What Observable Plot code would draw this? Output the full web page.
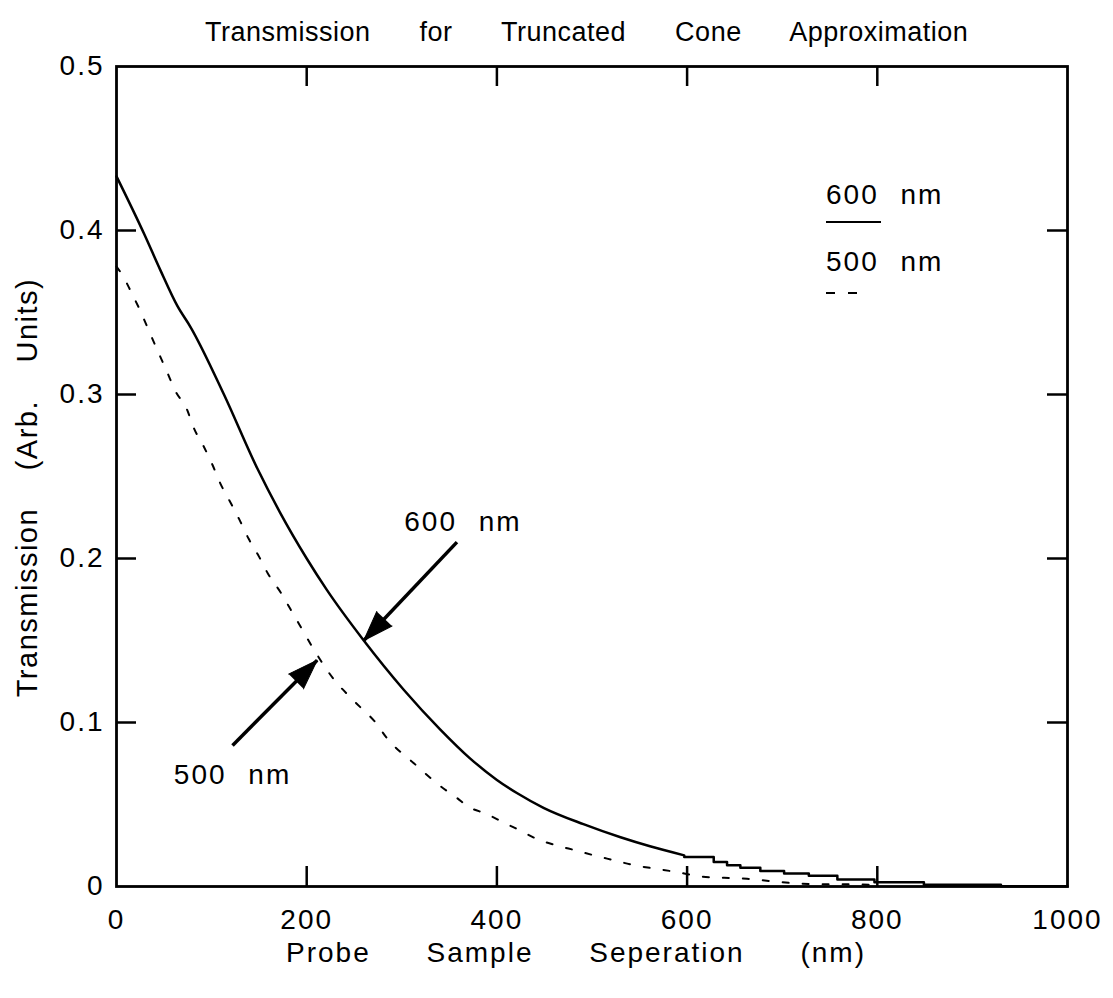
<!DOCTYPE html>
<html>
<head>
<meta charset="utf-8">
<script src="https://cdn.jsdelivr.net/npm/d3@7"></script>
<script src="https://cdn.jsdelivr.net/npm/@observablehq/plot@0.6"></script>
<style>
  html, body { margin: 0; padding: 0; background: #fff; }
  #wrap { position: relative; width: 1113px; height: 998px; font-family: "Liberation Sans", Arial, sans-serif; color: #000; }
  #title { position: absolute; z-index: 2; top: 17px; left: 205px; white-space: nowrap; font-size: 27px; line-height: 30px; letter-spacing: 0.5px; word-spacing: 41px; }
  #chart { position: absolute; z-index: 1; top: 40px; left: 0; }
  .leg { position: absolute; z-index: 2; font-size: 28px; line-height: 30px; letter-spacing: 2px; word-spacing: 12px; }
  .sw { position: absolute; z-index: 2; background: #000; }
  #chart svg text { letter-spacing: 2px; }
</style>
</head>
<body>
<div id="wrap">
  <div id="chart"></div>
  <div id="title">Transmission for Truncated Cone Approximation</div>
  <div class="leg" style="left:826px; top:180px;">600 nm</div>
  <div class="sw" style="left:826px; top:221px; width:55px; height:2px;"></div>
  <div class="leg" style="left:826px; top:247px;">500 nm</div>
  <div class="sw" style="left:826px; top:292px; width:9px; height:2px;"></div>
  <div class="sw" style="left:848px; top:292px; width:9px; height:2px;"></div>
</div>
<script>
// ---- data ----
const x600 = [0, 29, 46, 64, 78, 113, 148, 172, 200, 221, 260, 302, 340, 372, 400, 421, 449, 491, 530, 561, 597];
const y600 = [0.433, 0.398, 0.376, 0.354, 0.341, 0.300, 0.255, 0.228, 0.200, 0.181, 0.150, 0.120, 0.096, 0.078, 0.065, 0.057, 0.048, 0.038, 0.030, 0.0245, 0.019];
// staircase tail of the 600 nm curve
const x600tail = [597, 628, 642, 656, 677, 702, 728, 758, 797, 849, 930, 1000];
const y600tail = [0.018, 0.015, 0.013, 0.0115, 0.0095, 0.008, 0.0066, 0.0043, 0.0026, 0.0010, 0.0002, 0.0002];

const x500 = [0, 7, 15, 25, 34, 43, 53, 62, 74, 81, 92, 101, 109, 120, 129, 139, 150, 159, 173, 183, 194, 206, 229, 243, 257, 271, 285, 313, 341, 358, 369, 390, 407, 425, 442, 463, 483, 502, 523, 544, 565, 590, 614, 639, 663, 688, 712, 737, 761, 800];
const y500 = [0.378, 0.372, 0.363, 0.351, 0.339, 0.327, 0.314, 0.302, 0.291, 0.280, 0.268, 0.257, 0.246, 0.234, 0.224, 0.212, 0.201, 0.191, 0.179, 0.169, 0.158, 0.146, 0.126, 0.117, 0.109, 0.101, 0.090, 0.075, 0.061, 0.054, 0.049, 0.044, 0.039, 0.034, 0.029, 0.025, 0.022, 0.019, 0.016, 0.013, 0.011, 0.0087, 0.0061, 0.0053, 0.0047, 0.0033, 0.0020, 0.0014, 0.0014, 0.0010];

const xTicks = [0, 200, 400, 600, 800, 1000];
const yTicks = [0, 0.1, 0.2, 0.3, 0.4, 0.5];
const xInner = [200, 400, 600, 800];
const yInner = [0.1, 0.2, 0.3, 0.4];

const annotLabels = ["600 nm", "500 nm"];
const annotTailX = [358, 122];
const annotTailY = [0.210, 0.086];
const annotTipX = [260, 211];
const annotTipY = [0.150, 0.138];

const xLabel = "Probe Sample Seperation (nm)";
const yLabel = "Transmission (Arb. Units)";

// ---- layout ----
const W = 1113, H = 958, mL = 116, mR = 46, mT = 26, mB = 112;
const plotW = W - mL - mR, plotH = H - mT - mB;
const kx = plotW / 1000, ky = plotH / 0.5;

const s600 = x600.map((x, i) => ({x, y: y600[i]}));
const s600t = x600tail.map((x, i) => ({x, y: y600tail[i]}));
const s500 = x500.map((x, i) => ({x, y: y500[i]}));
const annot = annotLabels.map((label, i) => {
  const dxp = (annotTipX[i] - annotTailX[i]) * kx;
  const dyp = -(annotTipY[i] - annotTailY[i]) * ky;
  return {label, x1: annotTailX[i], y1: annotTailY[i], x2: annotTipX[i], y2: annotTipY[i],
          rot: Math.atan2(dxp, -dyp) * 180 / Math.PI};
});

const plot = Plot.plot({
  width: W, height: H,
  marginLeft: mL, marginRight: mR, marginTop: mT, marginBottom: mB,
  style: {fontFamily: "Liberation Sans, Arial, sans-serif", fontSize: "28px", color: "#000", background: "transparent", overflow: "visible"},
  x: {domain: [0, 1000]},
  y: {domain: [0, 0.5]},
  marks: [
    Plot.axisX({ticks: xTicks, tickSize: 0, tickPadding: 23, tickFormat: d3.format("d"), label: null}),
    Plot.axisY({ticks: yTicks, tickSize: 0, tickPadding: 12, tickFormat: d => d === 0 ? "0" : d3.format(".1f")(d), label: null}),
    Plot.tickX(xInner, {x: d => d, insetTop: plotH - 20, stroke: "#000", strokeWidth: 2.5}),
    Plot.tickX(xInner, {x: d => d, insetBottom: plotH - 20, stroke: "#000", strokeWidth: 2.5}),
    Plot.tickY(yInner, {y: d => d, insetRight: plotW - 20, stroke: "#000", strokeWidth: 2.5}),
    Plot.tickY(yInner, {y: d => d, insetLeft: plotW - 20, stroke: "#000", strokeWidth: 2.5}),
    Plot.line(s600, {x: "x", y: "y", curve: "monotone-x", stroke: "#000", strokeWidth: 2.5}),
    Plot.line(s600t, {x: "x", y: "y", curve: "step-after", stroke: "#000", strokeWidth: 2.5}),
    Plot.line(s500, {x: "x", y: "y", curve: "monotone-x", stroke: "#000", strokeWidth: 2, strokeDasharray: "6,14"}),
    Plot.link(annot, {x1: "x1", y1: "y1", x2: "x2", y2: "y2", stroke: "#000", strokeWidth: 3.5}),
    Plot.vector(annot, {x: "x2", y: "y2", rotate: "rot", shape: "spike", anchor: "end", length: 30, r: 10.5, fill: "#000", fillOpacity: 1, stroke: "#000", strokeWidth: 1}),
    Plot.text([annot[0]], {x: "x1", y: "y1", text: "label", dx: 6, dy: -20, fontSize: 28}),
    Plot.text([annot[1]], {x: "x1", y: "y1", text: "label", dx: 0, dy: 30, fontSize: 28}),
    Plot.text([xLabel], {frameAnchor: "bottom", textAnchor: "middle", dy: 75, dx: -16, fontSize: 28, fill: "#000"}),
    Plot.text([yLabel], {frameAnchor: "left", textAnchor: "middle", dx: -89, dy: 11, rotate: -90, fontSize: 29, fill: "#000"}),
    Plot.frame({stroke: "#000", strokeWidth: 2.8})
  ]
});
document.getElementById("chart").appendChild(plot);
// spacing like the original typesetting
const sel = d3.select(plot).selectAll("text");
sel.filter(function() { return this.textContent === "600 nm" || this.textContent === "500 nm"; })
   .style("word-spacing", "12px");
sel.filter(function() { return this.textContent === xLabel; })
   .style("letter-spacing", "2px").style("word-spacing", "46px");
sel.filter(function() { return this.textContent === yLabel; })
   .style("letter-spacing", "1.5px").style("word-spacing", "28px");
</script>
</body>
</html>
